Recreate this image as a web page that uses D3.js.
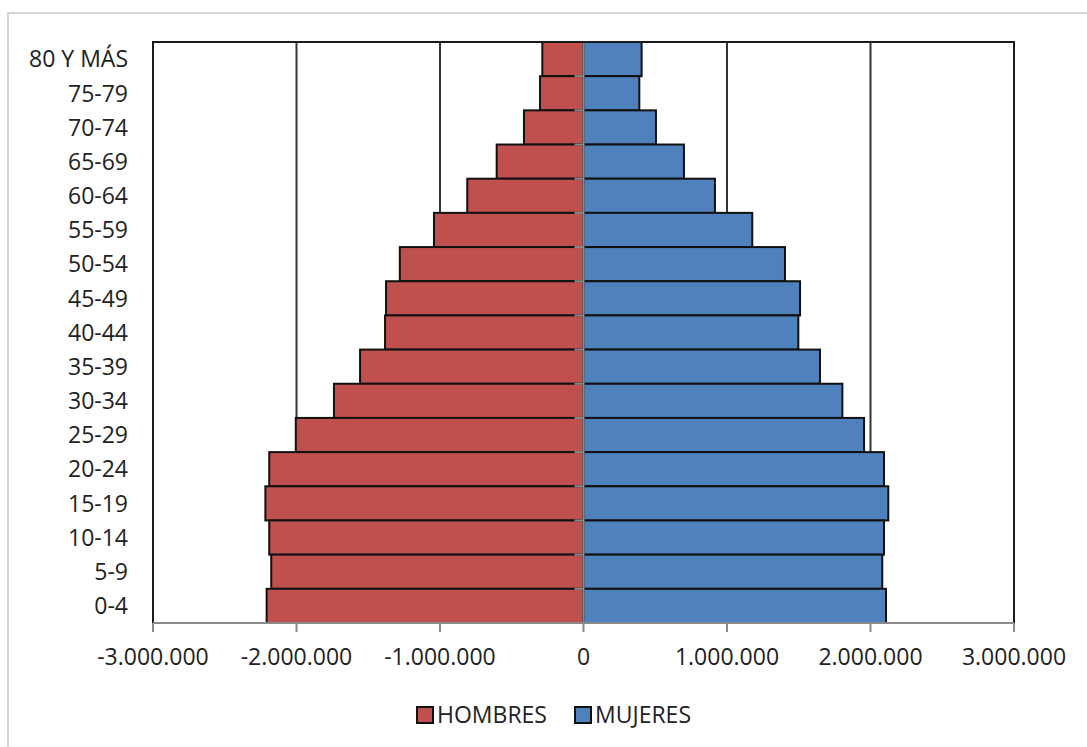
<!DOCTYPE html>
<html>
<head>
<meta charset="utf-8">
<script src="https://cdn.jsdelivr.net/npm/d3@7"></script>
<style>
  body { margin: 0; background: #fff; }
  text { font-family: "Open Sans", "Noto Sans", sans-serif; fill: #222; }
</style>
</head>
<body>
<svg id="chart" width="1087" height="747"></svg>
<script>
// Age groups, top to bottom
const ageGroups = ["80 Y MÁS", "75-79", "70-74", "65-69", "60-64", "55-59", "50-54", "45-49",
  "40-44", "35-39", "30-34", "25-29", "20-24", "15-19", "10-14", "5-9", "0-4"];

// Population per age group (men drawn to the left of zero)
const hombres = [287000, 303000, 415000, 605000, 810000, 1042000, 1280000, 1376000,
  1383000, 1557000, 1739000, 2005000, 2190000, 2217000, 2190000, 2176000, 2208000];
const mujeres = [405000, 389000, 505000, 700000, 916000, 1176000, 1404000, 1509000,
  1497000, 1648000, 1804000, 1955000, 2094000, 2124000, 2094000, 2082000, 2108000];

const xTicks = [-3000000, -2000000, -1000000, 0, 1000000, 2000000, 3000000];
const gridValues = [-2000000, -1000000, 1000000, 2000000];
const seriesNames = ["HOMBRES", "MUJERES"];
const seriesColors = ["#C0504D", "#4F81BD"];

const fs = 23;
const svg = d3.select("#chart");
const plot = { left: 153, right: 1014, top: 42, bottom: 623 };

const x = d3.scaleLinear().domain([-3000000, 3000000]).range([plot.left, plot.right]);
const y = d3.scaleBand().domain(ageGroups).range([plot.top, plot.bottom]).paddingInner(0).paddingOuter(0);

const fmt = d3.formatLocale({ decimal: ",", thousands: ".", grouping: [3], currency: ["", ""], minus: "-" }).format(",d");

// outer chart frame
svg.append("rect")
  .attr("x", 8).attr("y", 13).attr("width", 1200).attr("height", 900)
  .attr("fill", "none").attr("stroke", "#d4d4d4").attr("stroke-width", 2);

// vertical gridlines
svg.append("g").selectAll("line").data(gridValues).join("line")
  .attr("x1", d => x(d)).attr("x2", d => x(d))
  .attr("y1", plot.top).attr("y2", plot.bottom)
  .attr("stroke", "#333").attr("stroke-width", 2);

// bars
const rows = ageGroups.map((g, i) => ({ g, h: hombres[i], m: mujeres[i] }));
const bars = svg.append("g");
bars.selectAll("rect.h").data(rows).join("rect")
  .attr("class", "h")
  .attr("x", d => x(-d.h)).attr("width", d => x(0) - x(-d.h))
  .attr("y", d => y(d.g)).attr("height", y.bandwidth())
  .attr("fill", seriesColors[0]).attr("stroke", "#111").attr("stroke-width", 2);
bars.selectAll("rect.m").data(rows).join("rect")
  .attr("class", "m")
  .attr("x", x(0)).attr("width", d => x(d.m) - x(0))
  .attr("y", d => y(d.g)).attr("height", y.bandwidth())
  .attr("fill", seriesColors[1]).attr("stroke", "#111").attr("stroke-width", 2);

// category axis at zero with outward ticks
const yAxis = svg.append("g").attr("transform", `translate(${x(0)},0)`);
yAxis.append("line")
  .attr("x1", 0).attr("x2", 0).attr("y1", plot.top).attr("y2", plot.bottom)
  .attr("stroke", "#8a8a8a").attr("stroke-width", 2);
yAxis.selectAll("line.tick").data(ageGroups.slice(1)).join("line")
  .attr("class", "tick")
  .attr("x1", -9).attr("x2", 0)
  .attr("y1", d => y(d)).attr("y2", d => y(d))
  .attr("stroke", "#8a8a8a").attr("stroke-width", 2);

// plot border (left, top, right)
svg.append("path")
  .attr("d", `M${plot.left},${plot.bottom} V${plot.top} H${plot.right} V${plot.bottom}`)
  .attr("fill", "none").attr("stroke", "#1a1a1a").attr("stroke-width", 2);

// value axis along the bottom
const xAxis = svg.append("g");
xAxis.append("line")
  .attr("x1", plot.left).attr("x2", plot.right).attr("y1", plot.bottom).attr("y2", plot.bottom)
  .attr("stroke", "#8a8a8a").attr("stroke-width", 2);
xAxis.selectAll("line.tick").data(xTicks).join("line")
  .attr("class", "tick")
  .attr("x1", d => x(d)).attr("x2", d => x(d))
  .attr("y1", plot.bottom).attr("y2", plot.bottom + 9)
  .attr("stroke", "#8a8a8a").attr("stroke-width", 2);
xAxis.selectAll("text").data(xTicks).join("text")
  .attr("x", d => x(d)).attr("y", 665)
  .attr("text-anchor", "middle").attr("font-size", fs)
  .text(d => fmt(d));

// category labels
svg.append("g").selectAll("text").data(ageGroups).join("text")
  .attr("x", 128).attr("y", d => y(d) + y.bandwidth() / 2 + 0.36 * fs)
  .attr("text-anchor", "end").attr("font-size", fs)
  .text(d => d);

// legend
const legendX = [417, 575];
const legend = svg.append("g").selectAll("g").data(seriesNames).join("g")
  .attr("transform", (d, i) => `translate(${legendX[i]},707)`);
legend.append("rect")
  .attr("width", 16).attr("height", 16)
  .attr("fill", (d, i) => seriesColors[i]).attr("stroke", "#111").attr("stroke-width", 2);
legend.append("text")
  .attr("x", 20).attr("y", 16).attr("font-size", fs)
  .text(d => d);
</script>
</body>
</html>
